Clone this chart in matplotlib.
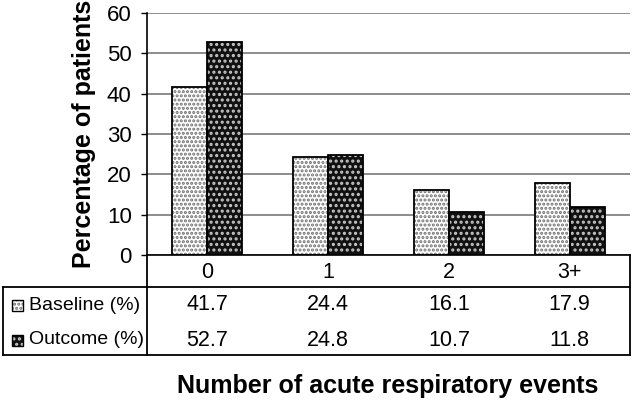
import matplotlib.pyplot as plt
import numpy as np
from matplotlib.lines import Line2D
from matplotlib.patches import Rectangle

plt.rcParams['font.family'] = ['Liberation Sans', 'DejaVu Sans']
plt.rcParams['hatch.linewidth'] = 1.5

categories = ['0', '1', '2', '3+']
baseline = [41.7, 24.4, 16.1, 17.9]
outcome = [52.7, 24.8, 10.7, 11.8]
row_labels = ['Baseline (%)', 'Outcome (%)']

W, H = 634, 401
fig = plt.figure(figsize=(W / 100, H / 100), dpi=100)

# pixel helpers (top-left origin)
def fx(px):
    return px / W

def fy(py):
    return 1 - py / H

ax_left, ax_right, ax_top, ax_bot = 147, 630, 13, 255
ax = fig.add_axes([fx(ax_left), fy(ax_bot), fx(ax_right - ax_left), (ax_bot - ax_top) / H])

base_fc, base_hc, base_ht = 'white', '#707070', '....'
out_fc, out_hc, out_ht = '#111111', '#c8c8c8', '...'

x = np.arange(len(categories))
w = 0.29
# pattern fill first, then black outline
ax.bar(x - w / 2, baseline, w, color=base_fc, edgecolor=base_hc, hatch=base_ht, linewidth=0, zorder=2)
ax.bar(x + w / 2, outcome, w, color=out_fc, edgecolor=out_hc, hatch=out_ht, linewidth=0, zorder=2)
ax.bar(x - w / 2, baseline, w, fill=False, edgecolor='black', linewidth=1.3, zorder=3)
ax.bar(x + w / 2, outcome, w, fill=False, edgecolor='black', linewidth=1.3, zorder=3)

ax.set_xlim(-0.5, 3.5)
ax.set_ylim(0, 60)
ax.set_yticks(range(0, 61, 10))
ax.tick_params(axis='y', labelsize=16, length=4, width=1, pad=7)
ax.set_xticks([])
ax.yaxis.grid(True, color='#8c8c8c', linewidth=1.4)
ax.set_axisbelow(True)
for s in ['top', 'right']:
    ax.spines[s].set_visible(False)
ax.spines['left'].set_linewidth(1.2)
ax.spines['bottom'].set_linewidth(1.2)
ax.set_ylabel('Percentage of patients', fontsize=18, fontweight='bold', labelpad=8)

# data table under the axis
lw = 1.3
def hline(y, x0, x1):
    fig.add_artist(Line2D([fx(x0), fx(x1)], [fy(y), fy(y)], color='black', lw=lw))

def vline(xp, y0, y1):
    fig.add_artist(Line2D([fx(xp), fx(xp)], [fy(y0), fy(y1)], color='black', lw=lw))

hline(287, 3, 630)
hline(355, 3, 630)
vline(3, 287, 355)
vline(147, 255, 355)
vline(630, 255, 355)

col_w = (ax_right - ax_left) / len(categories)
for i, c in enumerate(categories):
    cx = ax_left + col_w * (i + 0.5)
    fig.text(fx(cx), fy(273), c, ha='center', va='center', fontsize=15.5)
    fig.text(fx(cx), fy(305), f'{baseline[i]:.1f}', ha='center', va='center', fontsize=15.5)
    fig.text(fx(cx), fy(340), f'{outcome[i]:.1f}', ha='center', va='center', fontsize=15.5)

keys = [(base_fc, base_hc, base_ht), (out_fc, out_hc, out_ht)]
for (fc, hc, ht), lab, yy in zip(keys, row_labels, [305, 340]):
    fig.add_artist(Rectangle((fx(12), fy(yy + 5.5)), fx(11), 11 / H, facecolor=fc,
                             edgecolor=hc, hatch=ht, linewidth=0))
    fig.add_artist(Rectangle((fx(12), fy(yy + 5.5)), fx(11), 11 / H, fill=False,
                             edgecolor='black', linewidth=1))
    fig.text(fx(29), fy(yy), lab, ha='left', va='center', fontsize=14)

fig.text(fx(388), fy(386), 'Number of acute respiratory events', ha='center', va='center',
         fontsize=18, fontweight='bold')

fig.savefig('out.png', dpi=100)
